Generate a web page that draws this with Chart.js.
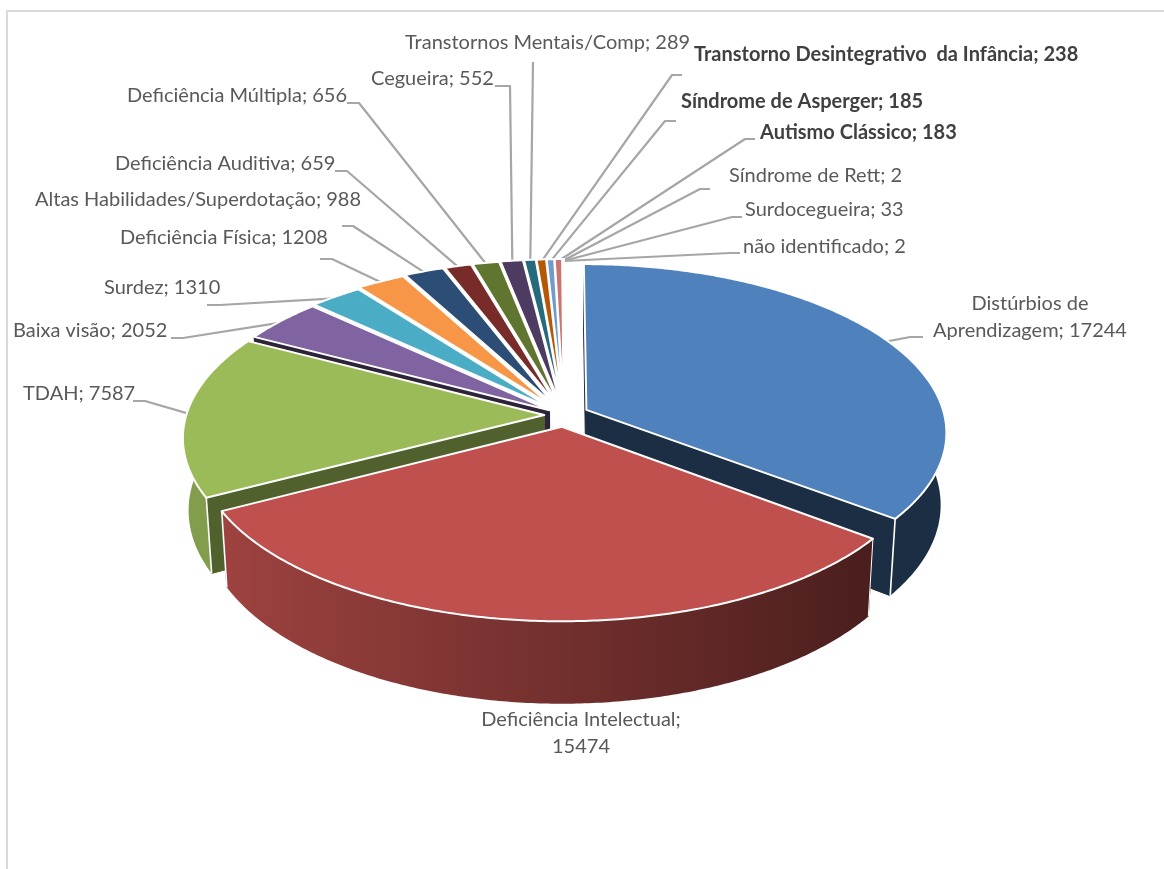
<!DOCTYPE html>
<html lang="pt">
<head>
<meta charset="utf-8">
<title>Pizza 3D</title>
<script src="https://cdn.jsdelivr.net/npm/chart.js@4"></script>
<style>html,body{margin:0;padding:0;background:#fff}canvas{display:block}</style>
</head>
<body>
<canvas id="c" width="1164" height="869"></canvas>
<script>
const categories = ["Distúrbios de Aprendizagem","Deficiência Intelectual","TDAH","Baixa visão","Surdez","Deficiência Física","Altas Habilidades/Superdotação","Deficiência Auditiva","Deficiência Múltipla","Cegueira","Transtornos Mentais/Comp","Transtorno Desintegrativo  da Infância","Síndrome de Asperger","Autismo Clássico","Síndrome de Rett","Surdocegueira","não identificado"];
const values = [17244,15474,7587,2052,1310,1208,988,659,656,552,289,238,185,183,2,33,2];
const colors = ["#4f81bd","#c0504d","#9bbb59","#8064a2","#4bacc6","#f79646","#2c4d75","#772c2a","#5f7530","#4d3b62","#276a7c","#b65708","#729aca","#cd7371","#afc97a","#9983b5","#6fbdd1"];
const boldLabels = [11,12,13];

// projection of the pie plane (style only)
const P = {cx:564, cy:415, rx:358, ry:166, persp:0.13, explode:0.07, depth:71, shrink:0.985};
const explodeOverride = {2:0.055,3:0.05,4:0.055,5:0.065};
// label placement: text left edge or centre, text y, leader elbow points
const labelLayout = {
  0:{lines:["Distúrbios de","Aprendizagem; 17244"],x:1030,y:304,align:"center",lead:[[923,337],[910,337]]},
  1:{lines:["Deficiência Intelectual;","15474"],x:581,y:720,align:"center",lead:null},
  2:{x:23,y:394,lead:[[133,401],[145,401]]},
  3:{x:13,y:331,lead:[[171,338],[183,338]]},
  4:{x:104,y:288,lead:[[207,305],[220,305]]},
  5:{x:120,y:238,lead:[[320,259],[332,259]]},
  6:{x:35,y:200,lead:[[342,226],[353,226]]},
  7:{x:115,y:164,lead:[[335,171],[347,171]]},
  8:{x:127,y:96,lead:[[347,103],[359,103]]},
  9:{x:371,y:79,lead:[[495,86],[510,86]]},
  10:{x:405,y:43,lead:[[533,62]]},
  11:{x:694,y:55,lead:[[682,75],[672,75]]},
  12:{x:681,y:102,lead:[[676,121],[665,121]]},
  13:{x:760,y:133,lead:[[755,139],[745,139]]},
  14:{x:729,y:176,lead:[[710,189],[700,189]]},
  15:{x:745,y:210,lead:[[742,217],[732,217]]},
  16:{x:743,y:247,lead:[[740,253],[730,253]]}
};

function shade(hex,f){
  const n=parseInt(hex.slice(1),16);
  const c=[(n>>16)&255,(n>>8)&255,n&255].map(v=>Math.round(v*f));
  return `rgb(${c[0]},${c[1]},${c[2]})`;
}
function proj(a,r,mid,d){
  const u=r*Math.cos(a)+d*Math.cos(mid), v=r*Math.sin(a)+d*Math.sin(mid);
  const s=1/(1-P.persp*v);
  return {x:P.cx+P.rx*u*s, y:P.cy+P.ry*v*s, s};
}
function lower(p){ return {x:P.cx+(p.x-P.cx)*P.shrink, y:p.y+P.depth*p.s}; }
function explodeOf(i){ return explodeOverride[i]===undefined?P.explode:explodeOverride[i]; }
function outline(arc,i){
  const a0=arc.startAngle,a1=arc.endAngle,mid=(a0+a1)/2,d=explodeOf(i);
  const pts=[]; const n=Math.max(2,Math.ceil((a1-a0)/0.01));
  for(let k=0;k<=n;k++) pts.push(proj(a0+(a1-a0)*k/n,1,mid,d));
  return {apex:proj(0,0,mid,d),pts};
}
function poly(ctx,list,fill,stroke){
  ctx.beginPath();
  list.forEach((p,i)=>i?ctx.lineTo(p.x,p.y):ctx.moveTo(p.x,p.y));
  ctx.closePath();
  ctx.fillStyle=fill; ctx.fill();
  if(stroke){ctx.strokeStyle=stroke;ctx.lineWidth=1;ctx.stroke();}
}
function line(ctx,a,b,col,w){
  ctx.beginPath();ctx.moveTo(a.x,a.y);ctx.lineTo(b.x,b.y);ctx.strokeStyle=col;ctx.lineWidth=w;ctx.stroke();
}
function drawWall(ctx,i,arc,col){
  const o=outline(arc,i), ap=o.apex, first=o.pts[0], last=o.pts[o.pts.length-1];
  const cut=shade(col,i===0?0.36:i===2?0.52:0.36);
  poly(ctx,[ap,first,lower(first),lower(ap)],cut,cut);
  poly(ctx,[ap,last,lower(last),lower(ap)],cut,cut);
  let outer;
  if(i===1){
    outer=ctx.createLinearGradient(225,0,880,0);
    outer.addColorStop(0,shade(col,0.82));
    outer.addColorStop(0.5,shade(col,0.6));
    outer.addColorStop(1,shade(col,0.38));
  } else if(i===2){ outer=shade(col,0.84); }
  else { outer=shade(col,0.36); }
  const strip=o.pts.concat(o.pts.slice().reverse().map(lower));
  poly(ctx,strip,outer,null);
  if(i===0) line(ctx,last,lower(last),"#fff",1.6);
  if(i===1){ line(ctx,first,lower(first),"#fff",1); line(ctx,last,lower(last),"#fff",1.6); }
  if(i===2) line(ctx,first,lower(first),"#fff",1.6);
}

const pie3d = {
  id:"pie3d",
  beforeDraw(chart){
    const ctx=chart.ctx;
    ctx.save();
    ctx.strokeStyle="#d9d9d9";ctx.lineWidth=2;
    ctx.beginPath();ctx.moveTo(7,869);ctx.lineTo(7,11);ctx.lineTo(1164,11);ctx.stroke();
    ctx.restore();
  },
  beforeDatasetDraw(){ return false; },
  afterDatasetsDraw(chart){
    const ctx=chart.ctx, arcs=chart.getDatasetMeta(0).data;
    const bg=i=>arcs[i].options.backgroundColor;
    ctx.save();
    ctx.lineJoin="round";
    arcs.forEach((arc,i)=>{
      const l=labelLayout[i]; if(!l.lead) return;
      const mid=(arc.startAngle+arc.endAngle)/2, e=proj(mid,0.985,mid,explodeOf(i));
      ctx.beginPath();
      l.lead.forEach((p,k)=>k?ctx.lineTo(p[0],p[1]):ctx.moveTo(p[0],p[1]));
      ctx.lineTo(e.x,e.y);
      ctx.strokeStyle="#a6a6a6";ctx.lineWidth=2.2;ctx.stroke();
    });
    [3,0,2,1].forEach(i=>drawWall(ctx,i,arcs[i],bg(i)));
    for(let i=arcs.length-1;i>=0;i--){
      const o=outline(arcs[i],i);
      ctx.lineWidth=2;
      ctx.beginPath();
      ctx.moveTo(o.apex.x,o.apex.y);
      o.pts.forEach(p=>ctx.lineTo(p.x,p.y));
      ctx.closePath();
      ctx.fillStyle=bg(i);ctx.fill();
      ctx.strokeStyle="#fff";ctx.stroke();
    }
    ctx.textBaseline="middle";
    arcs.forEach((arc,i)=>{
      const l=labelLayout[i];
      const bold=boldLabels.includes(i);
      ctx.font=(bold?"bold ":"")+"20px Lato";
      ctx.fillStyle=bold?"#404040":"#595959";
      ctx.textAlign=l.align||"left";
      const lines=l.lines||[`${categories[i]}; ${values[i]}`];
      lines.forEach((t,k)=>ctx.fillText(t,l.x,l.y+k*26.5));
    });
    ctx.restore();
  }
};

new Chart(document.getElementById("c"),{
  type:"pie",
  data:{labels:categories,datasets:[{data:values,backgroundColor:colors,borderColor:"#fff",borderWidth:2}]},
  options:{responsive:false,animation:false,devicePixelRatio:1,rotation:0,
    plugins:{legend:{display:false},tooltip:{enabled:false},title:{display:false}}},
  plugins:[pie3d]
});
</script>
</body>
</html>
